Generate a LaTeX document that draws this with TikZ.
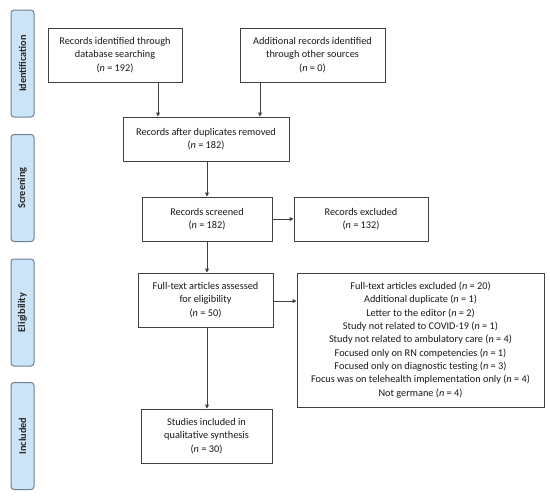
\documentclass[tikz,border=0pt]{standalone}
\usepackage{fontspec}
\setmainfont{Carlito}
\usetikzlibrary{arrows.meta}
\definecolor{lineg}{HTML}{404040}
\definecolor{sidefill}{HTML}{CCE4F7}
\definecolor{sidedraw}{HTML}{6F7F8F}
\begin{document}
\begin{tikzpicture}[x=1pt,y=-1pt,
  box/.style={draw=lineg, line width=1pt, align=center, inner sep=2pt,
    font=\fontsize{10.3}{13.3}\selectfont, text=black!90},
  side/.style={draw=sidedraw, fill=sidefill, line width=1pt, rounded corners=3pt,
    rotate=90, minimum width=107pt, minimum height=23pt, inner sep=0pt,
    font=\bfseries\fontsize{10.3}{12}\selectfont, text=black!85},
  arr/.style={draw=lineg, line width=1pt, -{Triangle[length=4pt,width=4pt]}}]
\useasboundingbox (0,0) rectangle (550,498);
% side labels
\node[side] (s1) at (22.5,63.5) {Identification};
\node[side] (s2) at (22.5,188) {Screening};
\node[side] (s3) at (22.5,312.5) {Eligibility};
\node[side] (s4) at (22.5,436) {Included};
% boxes
\node[box, minimum width=134pt, minimum height=54pt] (b1) at (115,55)
  {Records identified through\\database searching\\(\textit{n} = 192)};
\node[box, minimum width=145pt, minimum height=54pt] (b2) at (312.5,55)
  {Additional records identified\\through other sources\\(\textit{n} = 0)};
\node[box, minimum width=166pt, minimum height=44pt] (b3) at (206,139)
  {Records after duplicates removed\\(\textit{n} = 182)};
\node[box, minimum width=130pt, minimum height=44pt] (b4) at (207,219)
  {Records screened\\(\textit{n} = 182)};
\node[box, minimum width=134pt, minimum height=44pt] (b5) at (361,219)
  {Records excluded\\(\textit{n} = 132)};
\node[box, minimum width=135pt, minimum height=54pt] (b6) at (205.5,300)
  {Full-text articles assessed\\for eligibility\\(\textit{n} = 50)};
\node[box, minimum width=247pt, minimum height=134pt] (b7) at (420.5,340)
  {Full-text articles excluded (\textit{n} = 20)\\
   Additional duplicate (\textit{n} = 1)\\
   Letter to the editor (\textit{n} = 2)\\
   Study not related to COVID-19 (\textit{n} = 1)\\
   Study not related to ambulatory care (\textit{n} = 4)\\
   Focused only on RN competencies (\textit{n} = 1)\\
   Focused only on diagnostic testing (\textit{n} = 3)\\
   Focus was on telehealth implementation only (\textit{n} = 4)\\
   Not germane (\textit{n} = 4)};
\node[box, minimum width=131pt, minimum height=54pt] (b8) at (206.5,436)
  {Studies included in\\qualitative synthesis\\(\textit{n} = 30)};
% connectors
\coordinate (a1) at (158,0);
\coordinate (a2) at (260,0);
\coordinate (a3) at (207,0);
\coordinate (a4) at (0,301);
\draw[arr] (b1.south -| a1) -- (b3.north -| a1);
\draw[arr] (b2.south -| a2) -- (b3.north -| a2);
\draw[arr] (b3.south -| a3) -- (b4.north -| a3);
\draw[arr] (b4.south -| a3) -- (b6.north -| a3);
\draw[arr] (b4.east) -- (b5.west);
\draw[arr] (b6.east |- a4) -- (b7.west |- a4);
\draw[arr] (b6.south -| a3) -- (b8.north -| a3);
\end{tikzpicture}
\end{document}
